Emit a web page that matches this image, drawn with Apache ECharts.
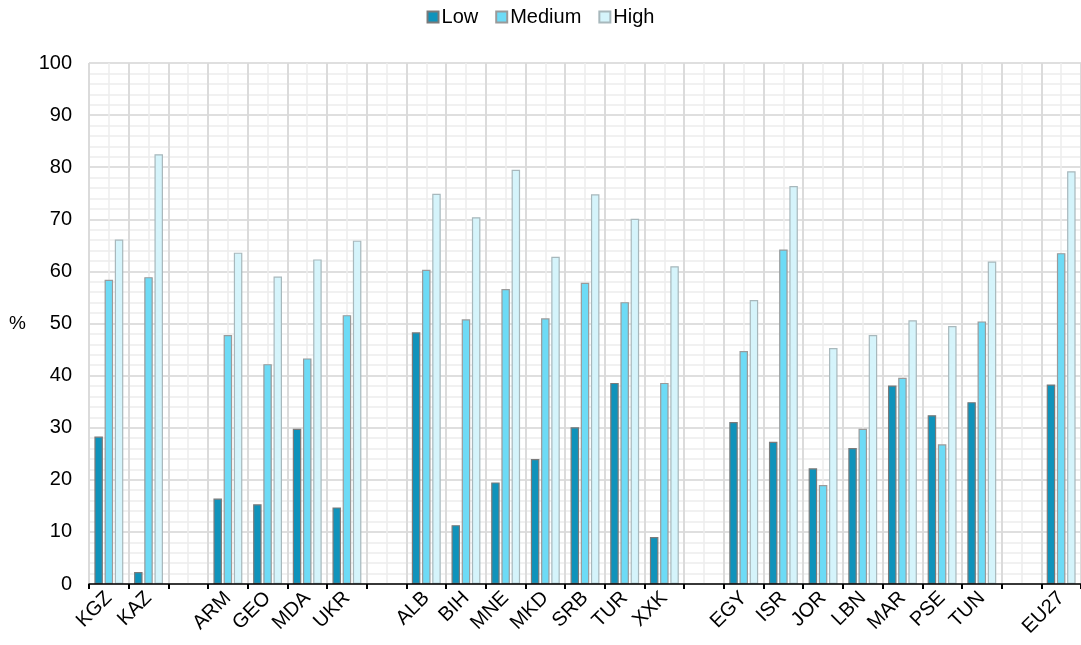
<!DOCTYPE html>
<html>
<head>
<meta charset="utf-8">
<script src="https://cdn.jsdelivr.net/npm/echarts@6/dist/echarts.min.js"></script>
<style>html,body{margin:0;padding:0;background:#fff;}#c{width:1081px;height:645px;}</style>
</head>
<body>
<div id="c"></div>
<script>
const categories = ['KGZ','KAZ','','ARM','GEO','MDA','UKR','','ALB','BIH','MNE','MKD','SRB','TUR','XXK','','EGY','ISR','JOR','LBN','MAR','PSE','TUN','','EU27'];
const low    = [28.3, 2.3, null, 16.4, 15.3, 29.8, 14.7, null, 48.3, 11.3, 19.5, 24.0, 30.1, 38.6, 9.0, null, 31.1, 27.3, 22.2, 26.1, 38.1, 32.4, 34.9, null, 38.3];
const medium = [58.4, 58.9, null, 47.8, 42.2, 43.3, 51.6, null, 60.3, 50.8, 56.6, 51.0, 57.8, 54.1, 38.6, null, 44.7, 64.2, 19.0, 29.8, 39.6, 26.8, 50.4, null, 63.5];
const high   = [66.1, 82.5, null, 63.6, 59.0, 62.3, 65.9, null, 74.9, 70.4, 79.5, 62.8, 74.8, 70.1, 61.0, null, 54.5, 76.4, 45.3, 47.8, 50.6, 49.5, 61.9, null, 79.2];
const yTicks = [0,10,20,30,40,50,60,70,80,90,100];

// half-slot helper categories (for the light grid lines through category centres)
const halfSlots = categories.flatMap((c, i) => [c + '_a' + i, c + '_b' + i]);

const font = 'Liberation Sans, Arial, sans-serif';
const chart = echarts.init(document.getElementById('c'), null, {renderer:'canvas'});
const bar = (name, data, color, border) => ({
  name, type:'bar', data, barWidth: 8.5, barGap: '20%',
  itemStyle:{color, borderColor:border, borderWidth:1.2},
  emphasis:{disabled:true}
});
chart.setOption({
  animation:false,
  textStyle:{fontFamily:font},
  legend:{
    top:2, left:'center', itemWidth:11, itemHeight:11, itemGap:17,
    icon:'rect',
    textStyle:{fontSize:20, color:'#000', fontFamily:font, padding:[0,0,0,-2]},
    data:['Low','Medium','High']
  },
  grid:{left:89, top:63, width:996, height:521, containLabel:false},
  xAxis:[{
    type:'category', data:categories,
    axisLine:{lineStyle:{color:'#000', width:1.5}},
    axisTick:{show:true, length:5, lineStyle:{color:'#000', width:2}},
    axisLabel:{rotate:45, fontSize:20, color:'#000', fontFamily:font, interval:0, margin:11},
    splitLine:{show:true, lineStyle:{color:'#d4d4d4', width:1.5}},
    z:5
  },{
    type:'category', data:halfSlots, position:'bottom',
    axisLine:{show:false}, axisTick:{show:false}, axisLabel:{show:false},
    splitLine:{show:true, interval:0, lineStyle:{color:'#ececec', width:1.5}},
    z:0
  }],
  yAxis:{
    type:'value', min:0, max:100, interval:10,
    name:'%', nameLocation:'middle', nameRotate:0, nameGap:63,
    nameTextStyle:{fontSize:19, color:'#000', fontFamily:font},
    axisLine:{show:false}, axisTick:{show:false},
    axisLabel:{fontSize:20, color:'#000', fontFamily:font, margin:17,
      formatter:v=> yTicks.includes(v) ? String(v) : ''},
    splitLine:{show:true, lineStyle:{color:'#d4d4d4', width:1.5}},
    minorTick:{show:false, splitNumber:5},
    minorSplitLine:{show:true, lineStyle:{color:'#ededed', width:1.5}}
  },
  series:[
    bar('Low', low, '#0f93bb', '#7a7a7a'),
    bar('Medium', medium, '#6ddbf6', '#9a9a9a'),
    bar('High', high, '#d5f4fb', '#a8b8bc')
  ]
});
</script>
</body>
</html>
